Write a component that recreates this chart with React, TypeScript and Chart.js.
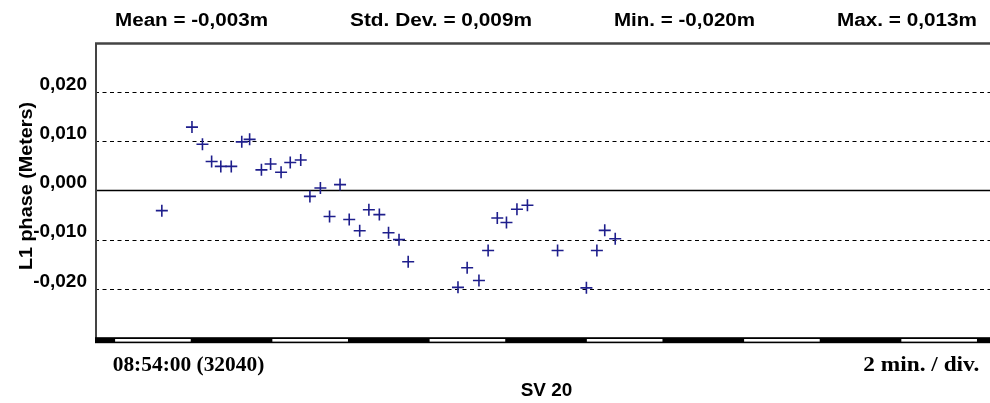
import React, { useEffect, useRef } from 'react';
import { Chart, registerables } from 'chart.js';

Chart.register(...registerables);

// ---- data ----
const X_SECONDS = [51, 74, 82, 89, 96, 104, 112, 118, 127, 134, 142, 149, 157, 164, 172, 179, 187, 194, 202, 209, 217, 224, 232, 239, 277, 284, 293, 300, 307, 314, 322, 330, 353, 375, 383, 389, 397];
const L1_PHASE = [-0.0041, 0.0129, 0.0094, 0.0059, 0.0049, 0.0049, 0.0099, 0.0104, 0.0042, 0.0054, 0.0037, 0.0057, 0.0062, -0.0012, 0.0005, -0.0053, 0.0012, -0.0059, -0.0082, -0.0039, -0.0049, -0.0086, -0.0100, -0.0145, -0.0197, -0.0157, -0.0183, -0.0122, -0.0056, -0.0065, -0.0038, -0.0030, -0.0122, -0.0198, -0.0122, -0.0081, -0.0098];

const STAT_LABELS = ['Mean = -0,003m', 'Std. Dev. = 0,009m', 'Min. = -0,020m', 'Max. = 0,013m'];
const Y_TITLE = 'L1 phase (Meters)';
const X_TITLE = 'SV 20';
const START_LABEL = '08:54:00 (32040)';
const DIV_LABEL = '2 min. / div.';

const X_MIN = 0;
const X_MAX = 683;
const Y_MIN = -0.03;
const Y_MAX = 0.03;
const Y_STEP = 0.01;
const DIV_SECONDS = 60;
const DIV_OFFSET = 14.2;

const SANS = '"Liberation Sans", Arial, sans-serif';
const SERIF = '"Liberation Serif", "Times New Roman", serif';

function drawFitted(ctx: CanvasRenderingContext2D, text: string, x: number, y: number, width: number, font: string, rotate = false) {
  ctx.save();
  ctx.font = font;
  ctx.fillStyle = '#000';
  ctx.textAlign = 'left';
  ctx.textBaseline = 'alphabetic';
  const w = ctx.measureText(text).width;
  ctx.translate(x, y);
  if (rotate) ctx.rotate(-Math.PI / 2);
  ctx.scale(width / w, 1);
  ctx.fillText(text, 0, 0);
  ctx.restore();
}

const framePlugin = {
  id: 'frame',
  beforeDatasetsDraw(chart: any) {
    const { ctx, chartArea: a, scales } = chart;
    const y = scales.y;
    ctx.save();
    // dashed gridlines
    ctx.strokeStyle = '#000';
    ctx.lineWidth = 1;
    ctx.setLineDash([4, 3.5]);
    y.ticks.forEach((t: any) => {
      const v = t.value;
      if (Math.abs(v) < 1e-9 || Math.abs(Math.abs(v) - Y_MAX) < 1e-9) return;
      const py = Math.round(y.getPixelForValue(v)) + 0.5;
      ctx.beginPath();
      ctx.moveTo(a.left, py);
      ctx.lineTo(a.right, py);
      ctx.stroke();
    });
    ctx.setLineDash([]);
    // zero line
    const zy = y.getPixelForValue(0);
    ctx.lineWidth = 1.6;
    ctx.beginPath();
    ctx.moveTo(a.left, zy);
    ctx.lineTo(a.right, zy);
    ctx.stroke();
    // top & left frame
    ctx.strokeStyle = '#444';
    ctx.lineWidth = 2.5;
    ctx.beginPath();
    ctx.moveTo(a.left, a.top + 0.5);
    ctx.lineTo(a.right, a.top + 0.5);
    ctx.stroke();
    ctx.lineWidth = 2;
    ctx.beginPath();
    ctx.moveTo(a.left + 1, a.top);
    ctx.lineTo(a.left + 1, a.bottom);
    ctx.stroke();
    ctx.restore();
  },
  afterDraw(chart: any) {
    const { ctx, chartArea: a, scales } = chart;
    const x = scales.x;
    ctx.save();
    // bottom time bar
    ctx.fillStyle = '#000';
    ctx.fillRect(a.left, a.bottom - 0.8, a.right - a.left, 6);
    ctx.fillStyle = '#fff';
    for (let s = DIV_OFFSET; s < X_MAX; s += 2 * DIV_SECONDS) {
      const x0 = x.getPixelForValue(s) + 1.5;
      const x1 = Math.min(x.getPixelForValue(s + DIV_SECONDS) - 1.5, a.right);
      if (x1 > x0) ctx.fillRect(x0, a.bottom + 1, x1 - x0, 2.6);
    }
    ctx.restore();

    // header statistics
    const hx = [115, 350, 614, 837];
    const hw = [153, 182, 141, 140];
    STAT_LABELS.forEach((t, i) => drawFitted(ctx, t, hx[i], 26, hw[i], `bold 18px ${SANS}`));
    // y title
    drawFitted(ctx, Y_TITLE, 31.5, 270, 168, `bold 18px ${SANS}`, true);
    // bottom labels
    drawFitted(ctx, START_LABEL, 112.7, 370.5, 151.6, `bold 21px ${SERIF}`);
    drawFitted(ctx, DIV_LABEL, 863.3, 370.5, 116, `bold 21px ${SERIF}`);
    drawFitted(ctx, X_TITLE, 520.7, 396, 51.6, `bold 19px ${SANS}`);
  },
};

export default function App() {
  const ref = useRef<HTMLCanvasElement | null>(null);

  useEffect(() => {
    if (!ref.current) return;
    const chart = new Chart(ref.current, {
      type: 'scatter',
      data: {
        datasets: [
          {
            data: X_SECONDS.map((s, i) => ({ x: s, y: L1_PHASE[i] })),
            pointStyle: 'cross',
            pointRadius: 6,
            pointHoverRadius: 6,
            pointBorderWidth: 1.6,
            borderColor: '#1e1e8c',
            backgroundColor: '#1e1e8c',
          },
        ],
      },
      options: {
        responsive: false,
        animation: false,
        events: [],
        layout: { autoPadding: false, padding: { top: 43, bottom: 65, left: 0, right: 0 } },
        plugins: { legend: { display: false }, tooltip: { enabled: false }, title: { display: false } },
        scales: {
          x: { type: 'linear', min: X_MIN, max: X_MAX, display: false },
          y: {
            type: 'linear',
            min: Y_MIN,
            max: Y_MAX,
            afterFit: (s: any) => { s.width = 95; },
            grid: { display: false, drawTicks: false },
            border: { display: false },
            ticks: {
              stepSize: Y_STEP,
              padding: 8,
              labelOffset: -7.5,
              color: '#000',
              font: { family: SANS, size: 19, weight: 'bold' },
              callback: (v: any) => {
                const n = Number(v);
                if (Math.abs(Math.abs(n) - Y_MAX) < 1e-9) return null;
                const val = Math.abs(n) < 1e-9 ? 0 : n;
                return val.toFixed(3).replace('.', ',');
              },
            },
          },
        },
      },
      plugins: [framePlugin],
    } as any);
    return () => chart.destroy();
  }, []);

  return (
    <div style={{ position: 'absolute', left: 0, top: 0, width: 990, height: 403, background: '#fff' }}>
      <canvas ref={ref} width={990} height={403} style={{ display: 'block' }} />
    </div>
  );
}
